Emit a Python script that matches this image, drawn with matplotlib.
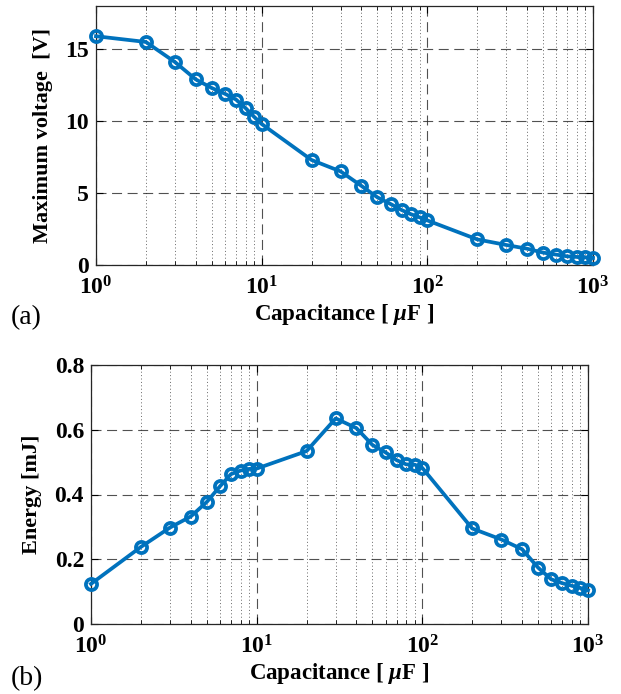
import matplotlib
matplotlib.use("Agg")
import matplotlib.pyplot as plt
from matplotlib.ticker import LogLocator, NullFormatter, LogFormatterMathtext

plt.rcParams['font.family'] = ['Liberation Serif', 'DejaVu Serif']
plt.rcParams['font.weight'] = 'bold'
plt.rcParams['mathtext.fontset'] = 'custom'
plt.rcParams['mathtext.rm'] = 'Liberation Serif:bold'
plt.rcParams['mathtext.bf'] = 'Liberation Serif:bold'
plt.rcParams['mathtext.it'] = 'Liberation Serif:italic:bold'
plt.rcParams['mathtext.default'] = 'bf'

capacitance = [1, 2, 3, 4, 5, 6, 7, 8, 9, 10, 20, 30, 40, 50, 60, 70, 80, 90, 100,
               200, 300, 400, 500, 600, 700, 800, 900, 1000]
voltage = [15.9, 15.5, 14.1, 12.9, 12.3, 11.9, 11.5, 10.9, 10.3, 9.8, 7.3, 6.5, 5.5,
           4.7, 4.24, 3.82, 3.52, 3.31, 3.1, 1.78, 1.39, 1.13, 0.86, 0.72, 0.6, 0.56,
           0.53, 0.49]
energy = [0.124, 0.238, 0.298, 0.332, 0.377, 0.425, 0.463, 0.474, 0.479, 0.48, 0.534,
          0.635, 0.605, 0.553, 0.53, 0.506, 0.493, 0.492, 0.482, 0.295, 0.261, 0.231,
          0.174, 0.138, 0.126, 0.118, 0.111, 0.104]
v_ticks = [0, 5, 10, 15]
e_ticks = [0, 0.2, 0.4, 0.6, 0.8]
e_ticklabels = ['0', '0.2', '0.4', '0.6', '0.8']

W, H = 621, 694
fig = plt.figure(figsize=(W / 100, H / 100), dpi=100)
blue = '#0072BD'

def setup(ax):
    ax.set_xscale('log')
    ax.set_xlim(1, 1000)
    ax.xaxis.set_major_locator(LogLocator(base=10, numticks=10))
    ax.xaxis.set_minor_locator(LogLocator(base=10, subs=range(2, 10), numticks=20))
    ax.xaxis.set_minor_formatter(NullFormatter())
    ax.xaxis.set_major_formatter(LogFormatterMathtext())
    ax.grid(True, which='major', linestyle=(0, (9, 5)), color='#262626', linewidth=0.8, alpha=0.8)
    ax.grid(True, which='minor', axis='x', linestyle=(0, (1, 2.5)), color='#262626', linewidth=0.7, alpha=0.7)
    ax.tick_params(which='both', direction='in', top=True, right=True, labelsize=17)
    ax.tick_params(axis='x', pad=8)
    ax.tick_params(axis='y', pad=5)
    ax.tick_params(which='major', length=5)
    ax.tick_params(which='minor', length=3)
    for s in ax.spines.values():
        s.set_color('#262626')
        s.set_linewidth(0.9)
    ax.set_axisbelow(True)

ax1 = fig.add_axes([96 / W, 1 - 265 / H, (593 - 96) / W, (265 - 6) / H])
setup(ax1)
ax1.plot(capacitance, voltage, '-o', color=blue, linewidth=2.7, markersize=8,
         markerfacecolor='none', markeredgewidth=2.7, clip_on=False, zorder=5)
ax1.set_ylim(0, 18)
ax1.set_yticks(v_ticks)
ax1.set_ylabel('Maximum voltage  [V]', fontsize=16, fontweight='bold', labelpad=9)
ax1.set_xlabel(r'Capacitance [ $\mathit{\mu}$F ]', fontsize=16.5, fontweight='bold', labelpad=2)

ax2 = fig.add_axes([91 / W, 1 - 624 / H, (588 - 91) / W, (624 - 365) / H])
setup(ax2)
ax2.plot(capacitance, energy, '-o', color=blue, linewidth=2.7, markersize=8,
         markerfacecolor='none', markeredgewidth=2.7, clip_on=False, zorder=5)
ax2.set_ylim(0, 0.8)
ax2.set_yticks(e_ticks)
ax2.set_yticklabels(e_ticklabels)
ax2.set_ylabel('Energy [mJ]', fontsize=16, fontweight='bold', labelpad=9)
ax2.set_xlabel(r'Capacitance [ $\mathit{\mu}$F ]', fontsize=16.5, fontweight='bold', labelpad=2)

fig.text(11 / W, 1 - 324 / H, '(a)', fontsize=20, fontweight='normal', ha='left', va='baseline')
fig.text(11 / W, 1 - 685 / H, '(b)', fontsize=20, fontweight='normal', ha='left', va='baseline')

fig.savefig('out.png', dpi=100)
